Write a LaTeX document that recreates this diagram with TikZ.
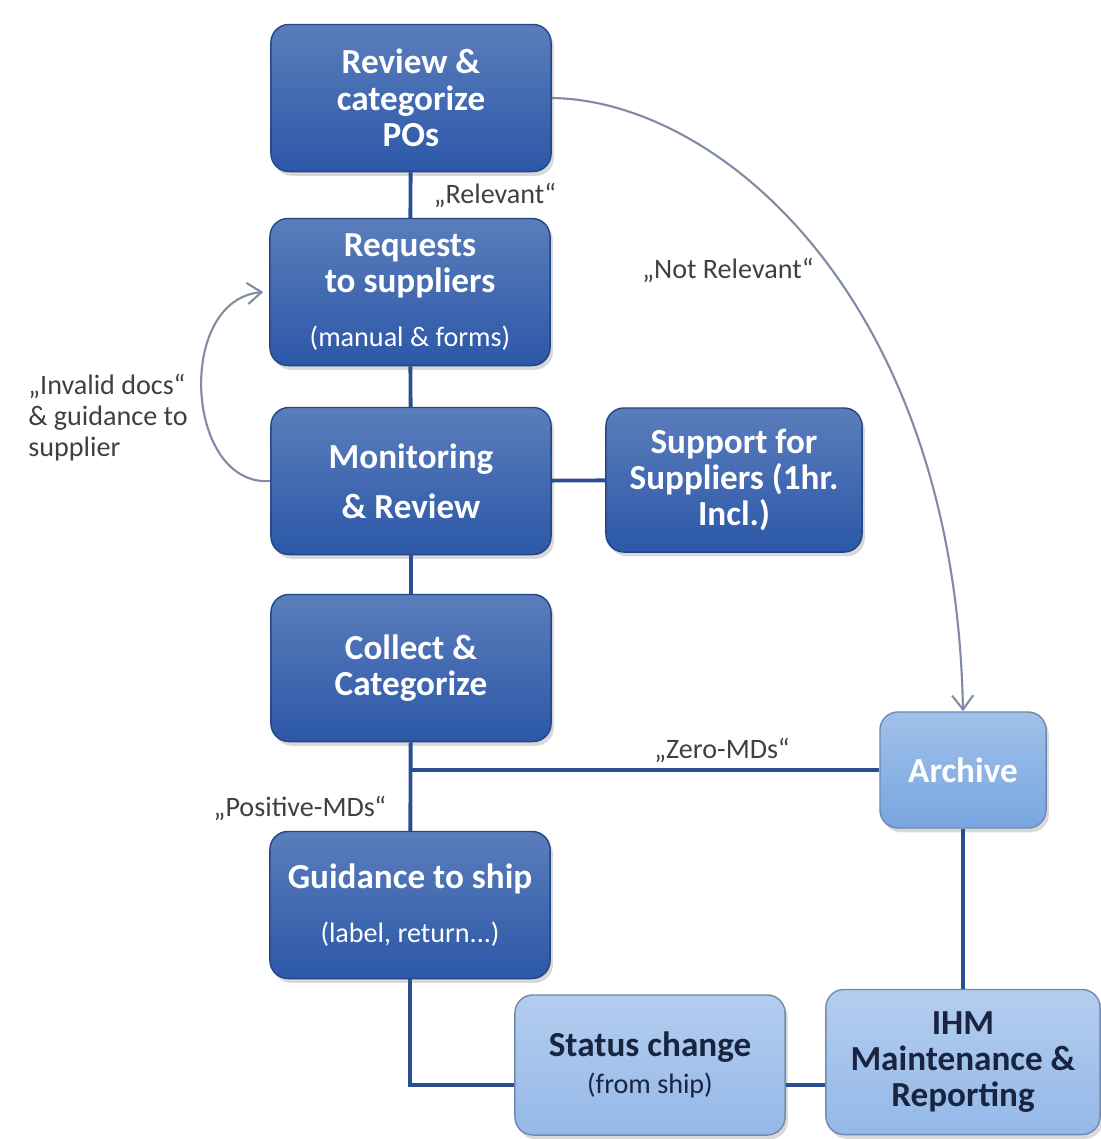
\documentclass[tikz,border=0pt]{standalone}
\usepackage{fontspec}
\setmainfont{Carlito}
\usetikzlibrary{arrows.meta, positioning, calc, shadows}
\definecolor{boxblue}{RGB}{44, 88, 168}
\definecolor{paleblue}{RGB}{148, 184, 232}
\definecolor{archblue}{RGB}{120, 166, 224}
\definecolor{linkblue}{RGB}{42, 78, 145}
\definecolor{curvegray}{RGB}{128, 140, 165}
\definecolor{navytext}{RGB}{24, 36, 64}
\definecolor{labelgray}{RGB}{64, 64, 64}
\newcommand{\subtxt}[1]{{\fontsize{8}{9}\selectfont\mdseries #1}}

\tikzset{
  darkbox/.style={rounded corners=0.18cm, top color=boxblue!78!white, bottom color=boxblue,
    draw=boxblue!80!black, line width=0.4pt, text=white, align=center,
    font=\fontsize{10}{10.3}\selectfont\bfseries, minimum width=2.8cm, minimum height=1.47cm,
    drop shadow={shadow xshift=0.8pt, shadow yshift=-1.2pt, opacity=0.3}},
  palebox/.style={darkbox, top color=paleblue!70!white, bottom color=paleblue,
    draw=paleblue!75!black, text=navytext},
  archbox/.style={palebox, top color=archblue!70!white, bottom color=archblue, text=white},
  link/.style={draw=linkblue, line width=1.1pt},
  loopback/.style={draw=curvegray, line width=0.6pt, -{Straight Barb[length=4pt, width=6pt]}},
  tag/.style={text=labelgray, font=\fontsize{8}{8.8}\selectfont}
}

\begin{document}
\begin{tikzpicture}[x=0.01cm, y=-0.01cm]
  \useasboundingbox (0,0) rectangle (1101,1139);

  % main column
  \node[darkbox] (review) at (411, 98) {Review \&\\categorize\\POs};
  \node[darkbox] (request) at (410, 292) {Requests\\to suppliers\\[5pt]\subtxt{(manual \& forms)}};
  \node[darkbox] (monitor) at (411, 481) {Monitoring\\[4pt]\& Review};
  \node[darkbox, minimum width=2.56cm, minimum height=1.44cm] (support) at (734, 480) {Support for\\Suppliers (1hr.\\Incl.)};
  \node[darkbox] (collect) at (411, 668) {Collect \&\\Categorize};
  \node[darkbox] (guide) at (410, 905) {Guidance to ship\\[5pt]\subtxt{(label, return...)}};

  % right column
  \node[archbox, minimum width=1.66cm, minimum height=1.16cm] (archive) at (963, 770) {Archive};
  \node[palebox, minimum width=2.7cm, minimum height=1.4cm] (status) at (650, 1065) {Status change\\\subtxt{(from ship)}};
  \node[palebox, minimum width=2.74cm, minimum height=1.45cm] (ihm) at (963, 1062) {IHM\\Maintenance \&\\Reporting};

  % connectors
  \draw[link] (review) -- (request);
  \draw[link] (request) -- (monitor);
  \draw[link] (monitor) -- (support);
  \draw[link] (monitor) -- (collect);
  \draw[link] (collect) -- (guide);
  \coordinate (split) at (collect.south |- archive.west);
  \draw[link] (split) -- (archive.west);
  \coordinate (bend) at ($(status.west)+(0,20)$);
  \draw[link] (guide.south) |- (bend);
  \draw[link] ($(status.east)+(0,20)$) -- ($(ihm.west)+(0,23)$);
  \draw[link] (archive) -- (ihm);

  % curved arrows
  \draw[loopback] (review.east) .. controls (720, 100) and (955, 300) .. (archive.north);
  \coordinate (reqin) at ($(request.west)+(-6,0)$);
  \draw[loopback] (monitor.west) .. controls (185, 487) and (175, 300) .. (reqin);

  % labels
  \node[tag] (relev) at (495, 195) {„Relevant“};
  \node[tag] (notrelev) at (728, 270) {„Not Relevant“};
  \node[tag] (zero) at (722, 750) {„Zero-MDs“};
  \node[tag] (posit) at (300, 808) {„Positive-MDs“};
  \node[tag, anchor=west, align=left] (invalid) at (16, 418) {„Invalid docs“\\\& guidance to\\supplier};
\end{tikzpicture}
\end{document}
